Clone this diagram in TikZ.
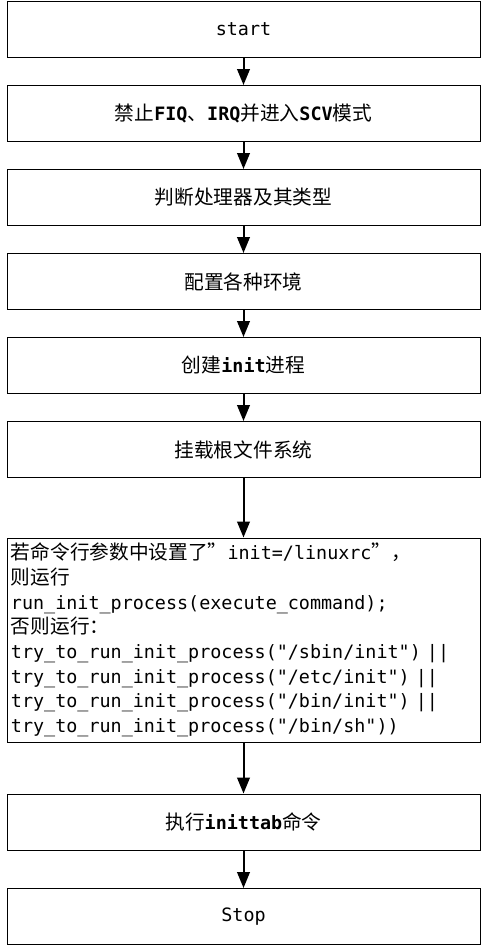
\documentclass[tikz,border=0pt]{standalone}
\usepackage{fontspec}
\setmonofont{DejaVu Sans Mono}
\newfontfamily\zhfont[Scale=1.07]{Noto Sans CJK SC}
\newcommand\zh[1]{{\zhfont #1}}
\usetikzlibrary{arrows.meta}
\tikzset{
  procbox/.style={draw, line width=0.75pt, minimum width=354.75pt, minimum height=42pt, inner sep=0pt},
  codebox/.style={draw, line width=0.75pt, minimum width=354.75pt, minimum height=153pt, text width=348.75pt, inner xsep=3pt, inner ysep=0pt, align=left},
  flowarrow/.style={line width=1.5pt, -{Triangle[length=12pt,width=9.5pt]}}
}
\begin{document}
\begin{tikzpicture}[x=0.75pt,y=-0.75pt,font=\ttfamily\fontsize{13.8pt}{18.5pt}\selectfont]
\useasboundingbox (0,0) rectangle (481,946);

%boxes
\node [procbox] (start) at (243.5,29) {start};
\node [procbox] (mask) at (243.5,113.5) {\zh{禁止}\textbf{FIQ}\zh{、}\textbf{IRQ}\zh{并进入}\textbf{SCV}\zh{模式}};
\node [procbox] (cpu) at (243.5,197.5) {\zh{判断处理器及其类型}};
\node [procbox] (env) at (243.5,281.5) {\zh{配置各种环境}};
\node [procbox] (init) at (243.5,365.5) {\zh{创建}\textbf{init}\zh{进程}};
\node [procbox] (rootfs) at (243.5,449.5) {\zh{挂载根文件系统}};

%run init
\node [codebox] (run) at (243.5,640) {\zh{若命令行参数中设置了”}init=/linuxrc\zh{”，}\\
\zh{则运行}\\
run\_init\_process(execute\_command);\\
\zh{否则运行：}\\
try\_to\_run\_init\_process("/sbin/init") ||\\
try\_to\_run\_init\_process("/etc/init") ||\\
try\_to\_run\_init\_process("/bin/init") ||\\
try\_to\_run\_init\_process("/bin/sh"))};

\node [procbox] (inittab) at (243.5,822) {\zh{执行}\textbf{inittab}\zh{命令}};
\node [procbox] (stop) at (243.5,916.5) {Stop};

%arrows
\draw [flowarrow] (start) -- (mask);
\draw [flowarrow] (mask) -- (cpu);
\draw [flowarrow] (cpu) -- (env);
\draw [flowarrow] (env) -- (init);
\draw [flowarrow] (init) -- (rootfs);
\draw [flowarrow] (rootfs) -- (run);
\draw [flowarrow] (run) -- (inittab);
\draw [flowarrow] (inittab) -- (stop);
\end{tikzpicture}
\end{document}
